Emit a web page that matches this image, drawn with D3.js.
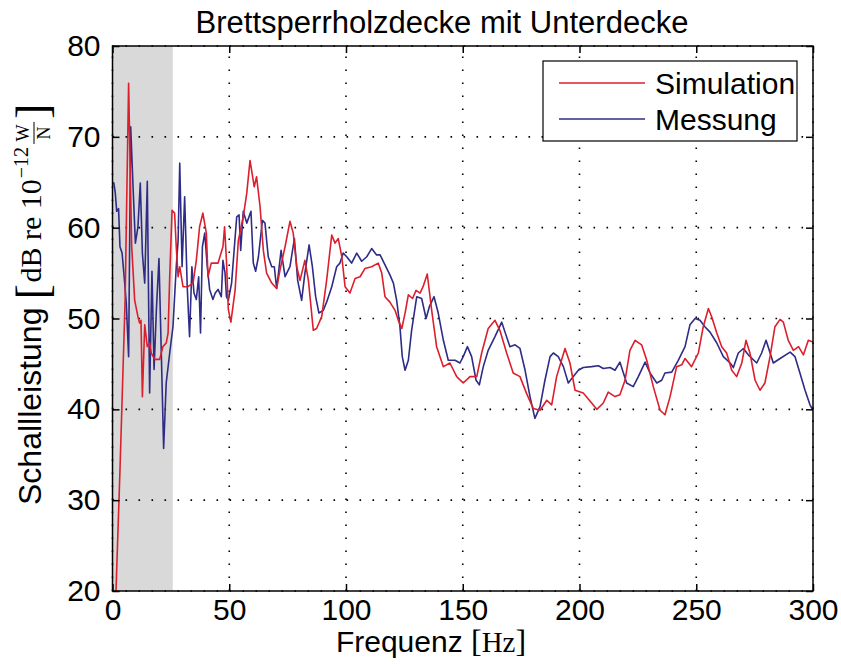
<!DOCTYPE html>
<html><head><meta charset="utf-8">
<script src="https://cdn.jsdelivr.net/npm/d3@7"></script>
<style>body{margin:0;background:#fff} svg{display:block}</style>
</head><body><svg id="c" width="841" height="664"></svg>
<script>
// ---- data ----
const xTicks = [0, 50, 100, 150, 200, 250, 300];
const yTicks = [20, 30, 40, 50, 60, 70, 80];
const shadeRange = [0, 25.8];
const seriesNames = ["Simulation", "Messung"];

const simFreq = [1.5,3.2,5.4,6.9,8.2,9.5,10.9,11.6,12.2,12.8,13.8,14.9,15.9,16.6,18.1,20.2,21.6,23,23.8,24.5,25.5,26.6,27.3,28.1,28.8,30.2,32.3,34.5,35.9,37.3,38.7,40.2,40.9,42.3,45.2,47.3,48.0,48.8,49.6,50.7,52.5,53.9,56,57.5,58.9,60.7,61.7,63.2,64.6,66,68.2,70.3,71.7,73.9,76,77.4,78.9,80.3,82.4,83.9,86,87.4,89.6,91.7,93.9,95.3,96.7,98.2,99.6,101.7,103.9,106,108.1,111,113.8,115.3,116.7,118.8,121,122.4,123.9,125.3,126.7,128.5,130,131.7,133,134.8,136.7,138.8,141.7,144.5,147.4,150.2,153.1,156,158.1,160.9,163.8,165.9,168.8,171.6,174.5,177.4,180.2,183.1,186,188.1,190.2,193.8,195.9,198.1,201.6,205.2,207.4,210.2,212.3,215.2,217.3,219.5,221.6,223.8,226.6,228.8,231.6,234.5,236.6,238.8,241.6,243.8,245.2,248,250.9,253,255.2,256.6,258.8,260.9,263,265.2,267.3,269.5,271.3,273,275.2,277.3,279.4,281.6,283.7,285.9,287.3,289.4,291.6,293.8,295.9,298,300];
const simLevel = [20,33.3,52,75.9,58,52,50.2,49.5,49.8,41.4,49.3,46.9,47.3,46.2,45.5,45.5,46.9,47.3,48.4,54.6,61.9,61.6,57.9,54.6,55.7,53.5,53.5,53.9,56.4,60.1,61.6,59.4,54.6,56.1,56.1,57.9,60.1,56.4,51,49.6,53.1,58.6,61.2,63.8,67.4,64.5,65.6,62.3,57.5,55,53.9,53.3,55.3,57.9,60.7,59.4,55.7,54.2,56.4,54.2,48.7,48.9,50.2,54.2,59.2,58.3,58.8,56.8,53.5,52.8,54.4,54.6,55.5,55.7,56.1,55,52.4,51.8,50.9,49.8,48.9,50.6,52.6,52.2,53.1,52.8,53.5,54.9,50.9,46.9,44.7,45.1,43.6,42.9,43.6,43.6,46.2,48.9,49.8,48.7,46.2,44,43.6,41.7,40.1,39.9,41,40.5,43.6,46.7,45.1,42.1,41.8,40.7,40,40.7,41.9,41.4,41.6,43.2,46.5,47.6,47.1,45.4,42.5,39.9,39.4,41.4,44.7,44.9,45.6,44.7,46.2,49.1,51.1,50.2,48.4,46.9,46.2,44.3,43.6,45.1,47.6,46.2,43.2,42.1,42.9,45.8,49.1,49.9,49.6,47.6,46.5,46.9,46,47.6,47.4];

const mesFreq = [0.3,0.6,1.2,1.8,2.6,3.2,4.1,5,5.9,6.9,7.8,8.8,9.8,10.9,11.9,12.8,13.8,14.9,15.9,16.9,17.8,18.8,19.9,20.9,21.9,23,24.5,25.9,27.3,28.1,28.8,29.8,30.9,32,33,34,34.9,35.9,36.9,37.7,38.5,39.5,40.6,41.6,43,44,45.2,46.6,47.3,48.2,48.8,49.6,51,53.2,54.2,54.9,56,57.5,59.3,60.3,61.3,62.5,64.2,65.3,66.7,68.2,69.3,70.3,72.2,73.9,76,77.9,79.3,81,82.4,84.2,85.6,87,88.4,90.3,91.7,93.9,96,97.4,98.8,100.3,102.4,104.6,106.7,108.9,111,113.1,114.6,116.7,118.8,120.3,121.7,123.1,124.1,125.3,126.7,128.1,130.3,132.4,134.3,135.7,137.7,139.5,141.7,143.8,146.7,148.8,150.2,152,153.8,155.7,157.1,158.8,160.9,163.8,166.7,168.1,170.2,172.4,174.5,176.7,178.8,180.9,183.1,185.2,187.4,188.8,190.9,193.1,195.2,197.3,199.5,201.6,205.2,208.1,210.2,213.1,215.2,217.3,218.8,220.2,223,225.2,228.1,230.2,233.1,235.2,236.6,239.5,242.3,245.2,247.3,249.5,251.6,253.7,255.9,258.8,261.6,264.5,265.9,268,270.2,272.3,275.9,278,279.9,283,285.9,290.2,292.3,294.4,296.6,298.7,300];
const mesLevel = [65,64.9,63.8,61.8,62.1,57.9,57.2,54.6,51.7,45.8,71.1,64.5,58.3,60.1,64.9,57.2,53.9,65.1,41.8,55.2,44.4,51,56.6,46.2,35.7,42.9,46.2,49.1,55.7,58.6,67.1,55.7,63.4,53.5,48,55.7,52.8,52.1,54.6,48.4,57.9,59.4,55.7,53.2,52.1,52.8,53.2,52.4,56.4,55,52.4,52,53.9,61.2,61.4,57.5,61.8,60.5,61.8,56.1,55.2,56.8,60.8,60.5,56.8,55.7,55.7,53.3,57.5,54.6,55.7,58.8,54.2,52,55,58.1,55.7,52.4,50.6,50.9,51.8,53.5,55.7,56.1,57.2,56.8,56.1,57.2,56.3,56.8,57.7,57,57,55.9,54.8,53.9,52,49.1,45.8,44.3,45.4,48.7,52.4,52.2,50,51.3,52.4,50.6,47.6,45.4,45.4,45.1,45.8,46.9,45.8,43.2,42.7,44.7,46.5,48,49.6,48.5,46.9,47.1,46.7,44.3,41.4,39,40.3,43.2,45.8,46.2,45.8,44.7,42.9,43.6,44.3,44.6,44.7,44.8,44.5,44.6,44.3,45.2,44,42.9,42.5,43.6,45.2,44,42.9,43.2,44,44.1,45.4,46.9,49.3,50,49.8,49.1,48.5,47.3,45.8,45.1,44.6,46.2,46.7,46,45.1,46.2,47.6,45.1,45.6,46.3,45.8,44,42.1,40.5,39.9];

// ---- layout ----
const svg = d3.select("#c");
const L = 112.5, R = 813, T = 46, B = 591;
const x = d3.scaleLinear().domain([0, 300]).range([L, R]);
const y = d3.scaleLinear().domain([20, 80]).range([B, T]);
const sans = "'Liberation Sans', Arial, Helvetica, sans-serif";
const serif = "'Liberation Serif', 'DejaVu Serif', serif";
const fs = 30;

svg.append("rect").attr("width", 841).attr("height", 664).attr("fill", "#fff");

svg.append("defs").append("clipPath").attr("id", "clip")
  .append("rect").attr("x", L).attr("y", T).attr("width", R - L).attr("height", B - T);

// shaded band
svg.append("rect")
  .attr("x", x(shadeRange[0])).attr("y", T)
  .attr("width", x(shadeRange[1]) - x(shadeRange[0])).attr("height", B - T)
  .attr("fill", "#d9d9d9");

// grid
const grid = svg.append("g").attr("stroke", "#000").attr("stroke-width", 1.6)
  .attr("stroke-dasharray", "1.6 11.4");
grid.selectAll(".gx").data(xTicks).join("line")
  .attr("x1", d => x(d)).attr("x2", d => x(d)).attr("y1", B).attr("y2", T);
grid.selectAll(".gy").data(yTicks).join("line")
  .attr("y1", d => y(d)).attr("y2", d => y(d)).attr("x1", L).attr("x2", R);

// lines
const line = d3.line().x(d => x(d[0])).y(d => y(d[1]));
const simData = d3.zip(simFreq, simLevel);
const mesData = d3.zip(mesFreq, mesLevel);
const colors = ["#dc1f2c", "#2e2c86"];
const lg = svg.append("g").attr("clip-path", "url(#clip)");
lg.append("path").datum(mesData).attr("d", line).attr("fill", "none")
  .attr("stroke", colors[1]).attr("stroke-width", 1.6).attr("stroke-linejoin", "round");
lg.append("path").datum(simData).attr("d", line).attr("fill", "none")
  .attr("stroke", colors[0]).attr("stroke-width", 1.6).attr("stroke-linejoin", "round");

// axes (inward ticks)
const tk = 7;
const axB = d3.axisBottom(x).tickValues(xTicks).tickSizeInner(-tk).tickSizeOuter(0).tickPadding(8);
const axT = d3.axisTop(x).tickValues(xTicks).tickSizeInner(-tk).tickSizeOuter(0).tickFormat("");
const axL = d3.axisLeft(y).tickValues(yTicks).tickSizeInner(-tk).tickSizeOuter(0).tickPadding(12);
const axR = d3.axisRight(y).tickValues(yTicks).tickSizeInner(-tk).tickSizeOuter(0).tickFormat("");
function style(g) {
  g.select(".domain").remove();
  g.selectAll(".tick line").attr("stroke", "#000").attr("stroke-width", 1.5);
  g.selectAll(".tick text").attr("font-family", sans).attr("font-size", fs).attr("fill", "#000");
}
svg.append("g").attr("transform", `translate(0,${B})`).call(axB).call(style);
svg.append("g").attr("transform", `translate(0,${T})`).call(axT).call(style);
svg.append("g").attr("transform", `translate(${L},0)`).call(axL).call(style);
svg.append("g").attr("transform", `translate(${R},0)`).call(axR).call(style);

// frame
svg.append("rect").attr("x", L).attr("y", T).attr("width", R - L).attr("height", B - T)
  .attr("fill", "none").attr("stroke", "#000").attr("stroke-width", 1.5);

// title
svg.append("text").attr("x", 442).attr("y", 33).attr("text-anchor", "middle")
  .attr("font-family", sans).attr("font-size", 31).text("Brettsperrholzdecke mit Unterdecke");

// x label
const xl = svg.append("text").attr("x", 431).attr("y", 652).attr("text-anchor", "middle")
  .attr("font-family", sans).attr("font-size", fs);
xl.append("tspan").text("Frequenz ");
xl.append("tspan").attr("font-family", serif).attr("font-size", 32).text("[");
xl.append("tspan").attr("font-family", serif).attr("font-size", 29).text("Hz");
xl.append("tspan").attr("font-family", serif).attr("font-size", 32).text("]");

// y label (rotated, built piecewise)
const yl = svg.append("g");
let cx = 0;
function piece(txt, font, size, dy) {
  const t = yl.append("text").attr("x", cx).attr("y", dy || 0)
    .attr("font-family", font).attr("font-size", size).text(txt);
  cx += t.node().getComputedTextLength();
  return t;
}
piece("Schallleistung", sans, 32);
cx += 8;
yl.append("text").attr("x", cx).attr("y", 7).attr("font-family", serif).attr("font-size", 46)
  .text("[");
cx += 17;
piece("dB re 10", serif, 30);
cx += 1;
piece("\u221212", serif, 20, -13);
cx += 3;
const fracX = cx, fracW = 22;
yl.append("text").attr("x", fracX + fracW / 2).attr("y", -12).attr("text-anchor", "middle")
  .attr("font-family", serif).attr("font-size", 18).text("W");
yl.append("line").attr("x1", fracX).attr("x2", fracX + fracW).attr("y1", -7).attr("y2", -7)
  .attr("stroke", "#000").attr("stroke-width", 1);
yl.append("text").attr("x", fracX + fracW / 2).attr("y", 9).attr("text-anchor", "middle")
  .attr("font-family", serif).attr("font-size", 18).text("N");
cx += fracW + 3;
yl.append("text").attr("x", cx).attr("y", 7).attr("font-family", serif).attr("font-size", 46)
  .text("]");
yl.attr("transform", `translate(41, 505) rotate(-90)`);

// legend
const lgd = svg.append("g");
lgd.append("rect").attr("x", 543).attr("y", 61).attr("width", 254).attr("height", 80)
  .attr("fill", "#fff").attr("stroke", "#000").attr("stroke-width", 1.2);
seriesNames.forEach((n, i) => {
  const yy = 83 + i * 36;
  lgd.append("line").attr("x1", 559).attr("x2", 645).attr("y1", yy).attr("y2", yy)
    .attr("stroke", colors[i]).attr("stroke-width", 1.6);
  lgd.append("text").attr("x", 655).attr("y", yy + 11).attr("font-family", sans)
    .attr("font-size", fs).text(n);
});
</script></body></html>
